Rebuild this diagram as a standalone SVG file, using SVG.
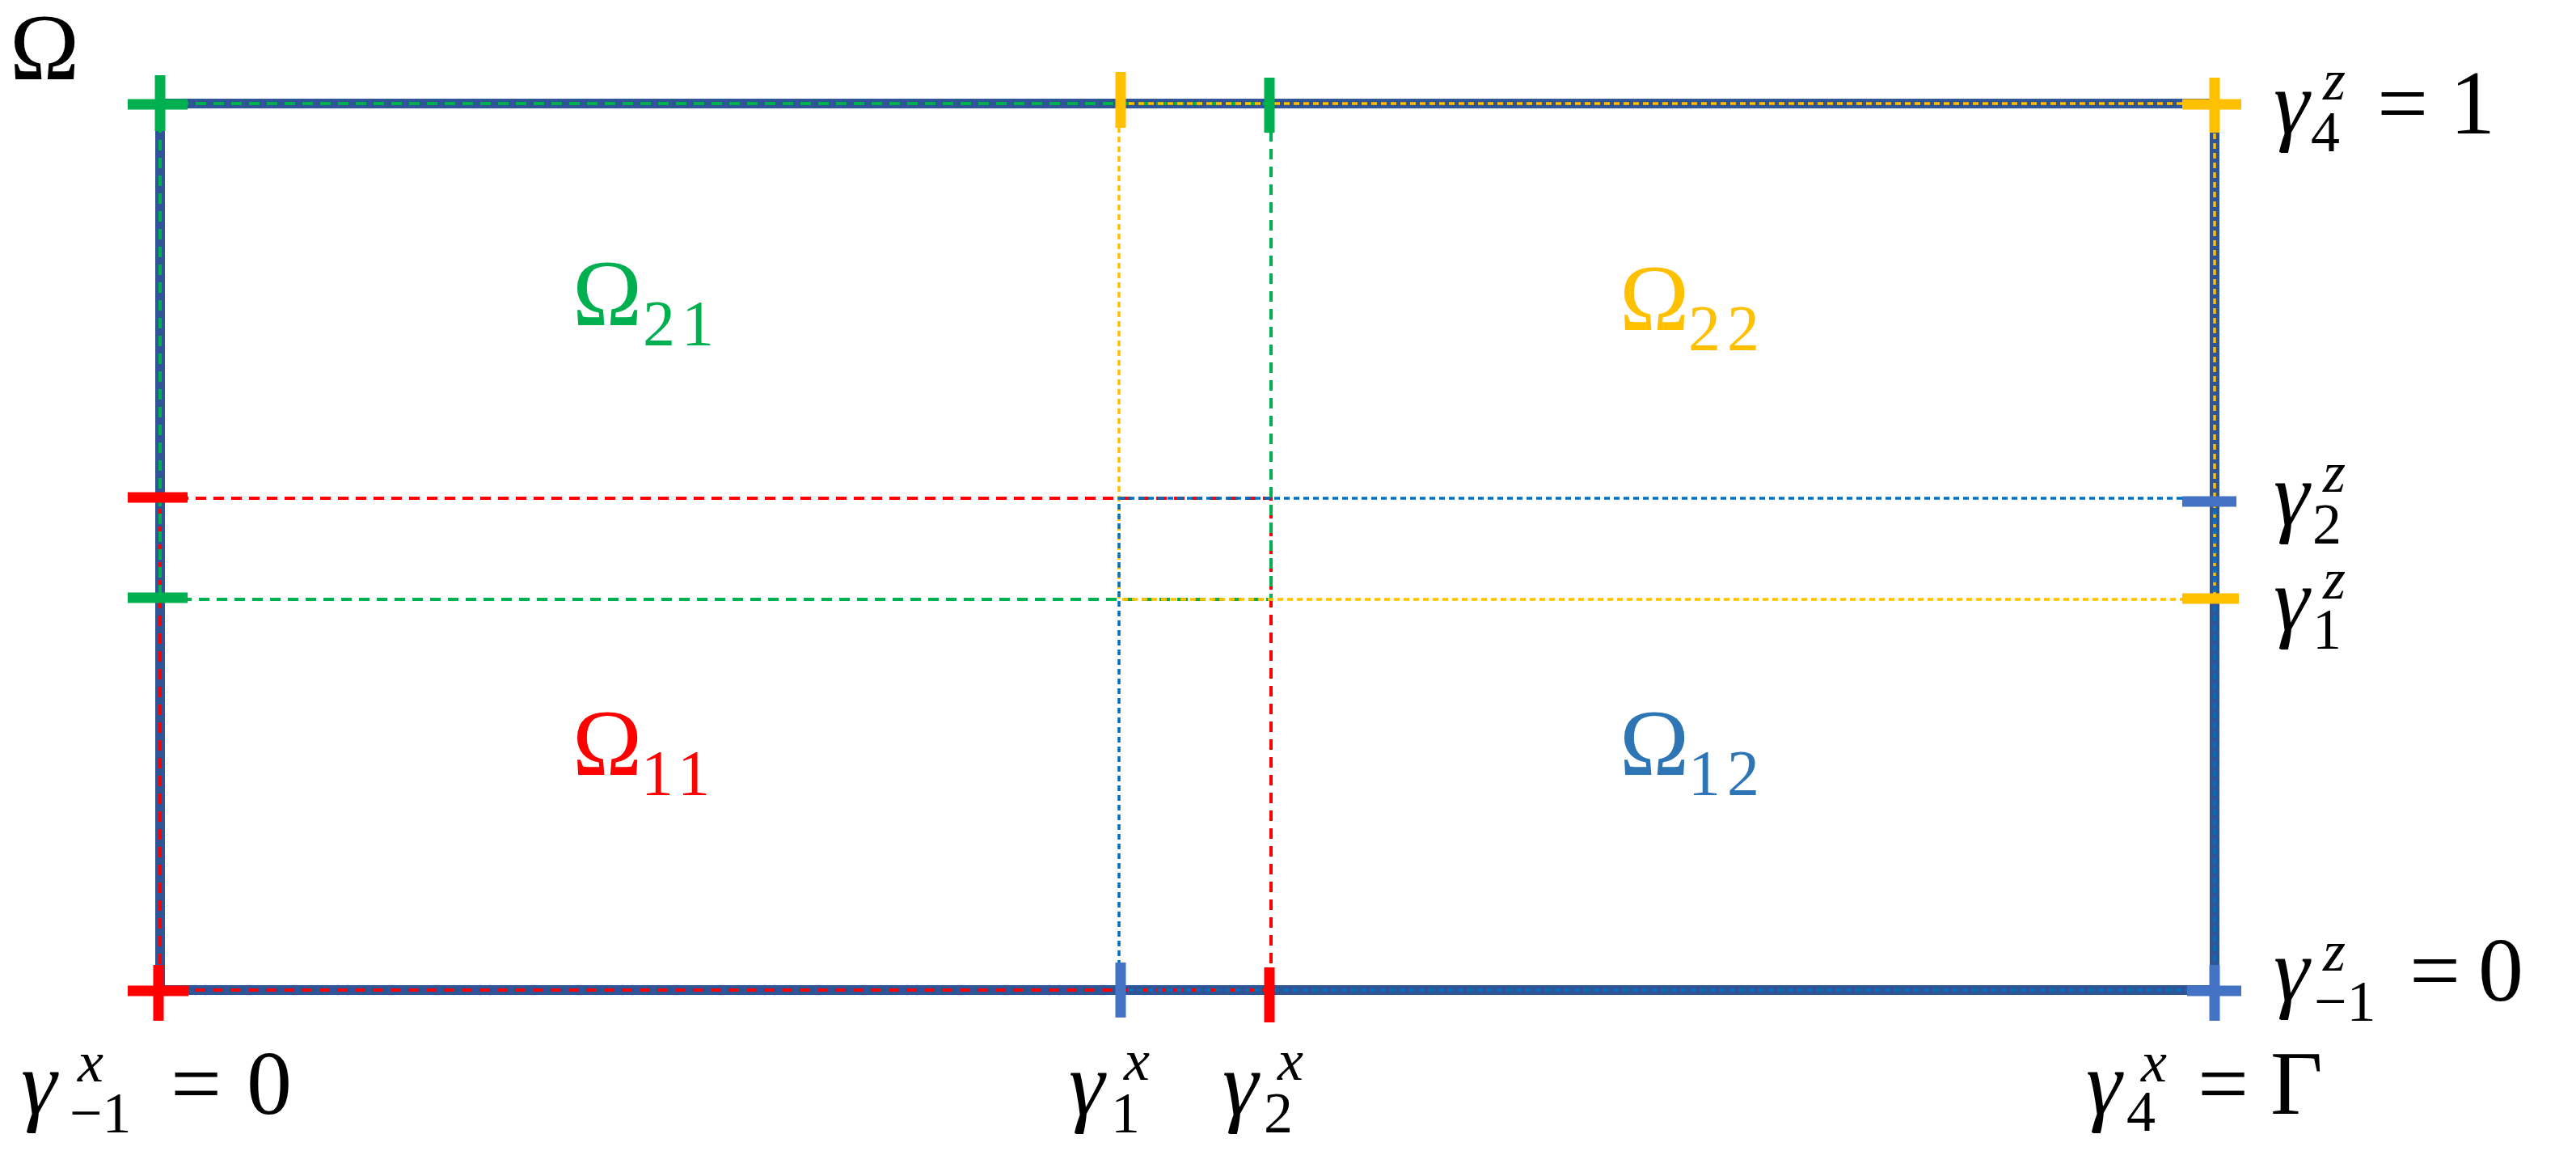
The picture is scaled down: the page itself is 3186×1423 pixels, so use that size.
<svg xmlns="http://www.w3.org/2000/svg" width="3186" height="1423" viewBox="0 0 3186 1423">
<style>
  .border{fill:none;stroke:#2F5597;stroke-width:12}
  .dash{fill:none}
  .dr{stroke:#FF0000;stroke-width:4;stroke-dasharray:13 9}
  .dg{stroke:#00B050;stroke-width:4;stroke-dasharray:13 9}
  .dy{stroke:#FFC000;stroke-width:3.5;stroke-dasharray:7 5}
  .db{stroke:#0070C0;stroke-width:3.5;stroke-dasharray:7 5}
  .tick{stroke-width:13;stroke-linecap:butt}
  .tr{stroke:#FF0000}.tg{stroke:#00B050}.ty{stroke:#FFC000}.tb{stroke:#4472C4}
  .m{font-size:112px}
  .s{font-size:72px}
  .it{font-style:italic}
  .om{font-size:116px}
  .os{font-size:80px;letter-spacing:8px}
</style>
<g id="domain">
  <rect class="border" x="198" y="128" width="2541" height="1096"/>
</g>
<g id="subdomains">
  <rect id="omega11-box" class="dash dr" x="198" y="616" width="1374" height="608"/>
  <rect id="omega21-box" class="dash dg" x="198" y="128" width="1374" height="613"/>
  <rect id="omega22-box" class="dash dy" x="1384" y="128" width="1355" height="613"/>
  <rect id="omega12-box" class="dash db" x="1384" y="616" width="1355" height="608"/>
</g>
<g id="ticks">
  <line class="tick tg" x1="198" y1="93" x2="198" y2="162"/>
  <line class="tick tg" x1="158" y1="129" x2="232" y2="129"/>
  <line class="tick ty" x1="1386" y1="89" x2="1386" y2="158"/>
  <line class="tick tg" x1="1570" y1="96" x2="1570" y2="164"/>
  <line class="tick ty" x1="2739" y1="96" x2="2739" y2="164"/>
  <line class="tick ty" x1="2699" y1="129" x2="2772" y2="129"/>
  <line class="tick tr" x1="158" y1="615" x2="232" y2="615"/>
  <line class="tick tg" x1="158" y1="739" x2="232" y2="739"/>
  <line class="tick tb" x1="2699" y1="620" x2="2766" y2="620"/>
  <line class="tick ty" x1="2699" y1="740" x2="2769" y2="740"/>
  <line class="tick tr" x1="196" y1="1193" x2="196" y2="1262"/>
  <line class="tick tr" x1="158" y1="1225" x2="233" y2="1225"/>
  <line class="tick tb" x1="1386" y1="1190" x2="1386" y2="1258"/>
  <line class="tick tr" x1="1570" y1="1196" x2="1570" y2="1264"/>
  <line class="tick tb" x1="2739" y1="1193" x2="2739" y2="1262"/>
  <line class="tick tb" x1="2705" y1="1225" x2="2772" y2="1225"/>
</g>
<g id="labels" font-family="'Liberation Serif', serif" fill="#000">
<g id="label-omega">
  <text class="om" x="12" y="98">Ω</text>
</g>
<g id="label-omega21">
  <text class="om" x="708" y="402" fill="#00B050">Ω<tspan class="os" x="795" y="427">21</tspan></text>
</g>
<g id="label-omega22">
  <text class="om" x="2003" y="408" fill="#FFC000">Ω<tspan class="os" x="2088" y="433">22</tspan></text>
</g>
<g id="label-omega11">
  <text class="om" x="708" y="958" fill="#FF0000">Ω<tspan class="os" x="793" y="983">11</tspan></text>
</g>
<g id="label-omega12">
  <text class="om" x="2003" y="958" fill="#2E75B6">Ω<tspan class="os" x="2088" y="983">12</tspan></text>
</g>
<g id="label-gz4">
  <text class="m"><tspan class="it" x="2812" y="165">γ</tspan><tspan class="s it" x="2873" y="123">z</tspan><tspan class="s" x="2858" y="187">4</tspan><tspan x="2940" y="165">=</tspan><tspan x="3030" y="165">1</tspan></text>
</g>
<g id="label-gz2">
  <text class="m"><tspan class="it" x="2812" y="649">γ</tspan><tspan class="s it" x="2873" y="608">z</tspan><tspan class="s" x="2860" y="672">2</tspan></text>
</g>
<g id="label-gz1">
  <text class="m"><tspan class="it" x="2812" y="779">γ</tspan><tspan class="s it" x="2873" y="740">z</tspan><tspan class="s" x="2860" y="802">1</tspan></text>
</g>
<g id="label-gzm1">
  <text class="m"><tspan class="it" x="2812" y="1237">γ</tspan><tspan class="s it" x="2873" y="1200">z</tspan><tspan class="s" x="2862" y="1262">−1</tspan><tspan x="2980" y="1237">=</tspan><tspan x="3065" y="1237">0</tspan></text>
</g>
<g id="label-gxm1">
  <text class="m"><tspan class="it" x="26" y="1377">γ</tspan><tspan class="s it" x="96" y="1337">x</tspan><tspan class="s" x="86" y="1400">−1</tspan><tspan x="211" y="1377">=</tspan><tspan x="305" y="1377">0</tspan></text>
</g>
<g id="label-gx1">
  <text class="m"><tspan class="it" x="1322" y="1378">γ</tspan><tspan class="s it" x="1390" y="1335">x</tspan><tspan class="s" x="1374" y="1400">1</tspan></text>
</g>
<g id="label-gx2">
  <text class="m"><tspan class="it" x="1512" y="1378">γ</tspan><tspan class="s it" x="1580" y="1335">x</tspan><tspan class="s" x="1563" y="1400">2</tspan></text>
</g>
<g id="label-gx4">
  <text class="m"><tspan class="it" x="2580" y="1377">γ</tspan><tspan class="s it" x="2648" y="1337">x</tspan><tspan class="s" x="2630" y="1398">4</tspan><tspan x="2718" y="1377">=</tspan><tspan x="2808" y="1377">Γ</tspan></text>
</g>
</g>
</svg>
